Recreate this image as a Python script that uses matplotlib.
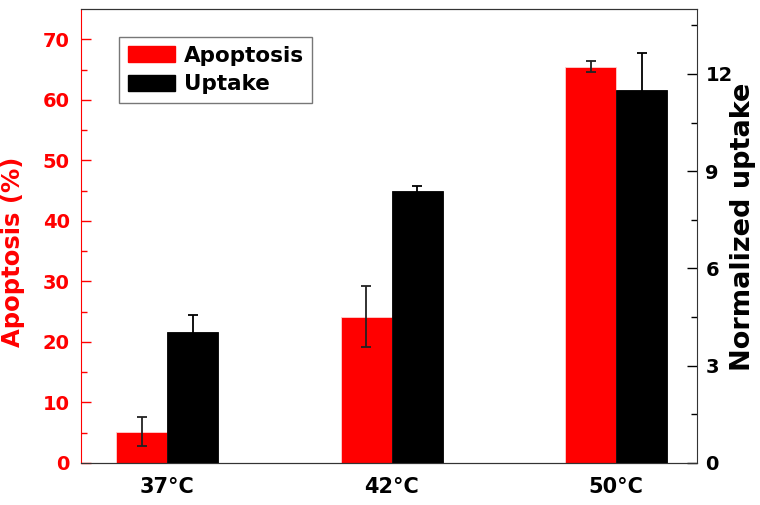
import numpy as np
import matplotlib.pyplot as plt
from matplotlib.patches import Patch

categories = ['37°C', '42°C', '50°C']
apoptosis = [5.2, 24.2, 65.5]
apoptosis_err = [2.4, 5.0, 0.9]
uptake = [4.05, 8.4, 11.5]
uptake_err = [0.5, 0.13, 1.15]

plt.rcParams['font.family'] = ['DejaVu Sans']
plt.rcParams['font.weight'] = 'bold'

fig = plt.figure(figsize=(7.6, 5.05), dpi=100)
ax = fig.add_axes([0.1066, 0.0832, 0.8105, 0.8988])
ax2 = ax.twinx()

x = np.arange(len(categories))
w = 0.227

ax.bar(x - w/2, apoptosis, w, color='#ff0000', edgecolor='#ffd0d0', linewidth=0.6,
       yerr=apoptosis_err, error_kw=dict(ecolor='#222222', elinewidth=1.3, capsize=3.5, capthick=1.3),
       zorder=2)
ax2.bar(x + w/2, uptake, w, color='black', edgecolor='black', linewidth=0.6,
        yerr=uptake_err, error_kw=dict(ecolor='black', elinewidth=1.3, capsize=3.5, capthick=1.3),
        zorder=2)

ax.set_xlim(-0.383, 2.36)
ax.set_ylim(0, 75)
ax2.set_ylim(0, 14)

ax.set_xticks(x)
ax.set_xticklabels(categories, fontsize=15, fontweight='bold')
ax.tick_params(axis='x', length=0, pad=10)

ax.set_yticks(np.arange(0, 71, 10))
ax.set_yticks(np.arange(5, 75, 10), minor=True)
ax.tick_params(axis='y', which='both', direction='in', colors='#ff0000', labelsize=14, pad=8)
ax.tick_params(axis='y', which='major', length=7, width=1)
ax.tick_params(axis='y', which='minor', length=4.5, width=1)

ax2.set_yticks(np.arange(0, 13, 3))
ax2.set_yticks(np.arange(1.5, 14, 3), minor=True)
ax2.tick_params(axis='y', which='both', direction='in', colors='black', labelsize=14, pad=6)
ax2.tick_params(axis='y', which='major', length=7, width=1)
ax2.tick_params(axis='y', which='minor', length=4.5, width=1)

for lab in ax.get_yticklabels() + ax2.get_yticklabels():
    lab.set_fontweight('bold')

ax.spines['left'].set_color('#ff0000')
ax.spines['right'].set_visible(False)
ax2.spines['left'].set_visible(False)
for sp in ['top', 'bottom']:
    ax.spines[sp].set_color('#333333')
ax2.spines['right'].set_color('#333333')
ax2.spines['top'].set_color('#333333')
ax2.spines['bottom'].set_color('#333333')

ax.set_ylabel('Apoptosis (%)', color='#ff0000', fontsize=17.5, fontweight='bold')
ax.yaxis.set_label_coords(-0.091, 0.465)
ax2.set_ylabel('Normalized uptake', color='black', fontsize=19.5, fontweight='bold')
ax2.yaxis.set_label_coords(1.053, 0.52)

handles = [Patch(facecolor='#ff0000', edgecolor='#ff0000'),
           Patch(facecolor='black', edgecolor='black')]
leg = ax2.legend(handles, ['Apoptosis', 'Uptake'], loc='upper left',
                 bbox_to_anchor=(0.0617, 0.938), fancybox=False, edgecolor='#555555',
                 prop={'size': 15.5, 'weight': 'bold'}, handlelength=2.2, handleheight=0.75,
                 handletextpad=0.4, labelspacing=0.4, borderpad=0.4, borderaxespad=0)
leg.get_frame().set_linewidth(1.0)

fig.savefig('out.png', dpi=100)
